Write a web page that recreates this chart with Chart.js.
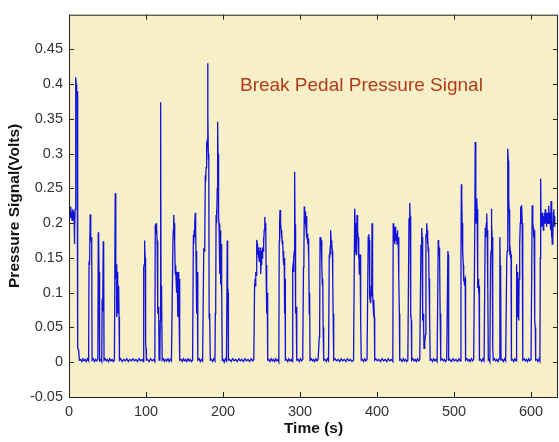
<!DOCTYPE html>
<html>
<head>
<meta charset="utf-8">
<script src="https://cdn.jsdelivr.net/npm/chart.js@4.4.1/dist/chart.umd.min.js"></script>
<style>
  html, body { margin: 0; padding: 0; background: #fff; }
  canvas { display: block; }
</style>
</head>
<body>
<canvas id="pedalChart" width="559" height="442"></canvas>
<script>
// brake pedal signal (time in s, pressure in volts)
const timeS = [
  0, 0.5, 1, 1.5, 2, 2.5, 3, 3.5, 4, 4.5, 5, 5.5, 6, 6.5, 7, 7.5, 8, 8.5, 9, 9.5, 10, 10.5, 11, 11.5, 12.5, 13.5,
  15, 16.5, 18, 19.5, 21, 22.5, 24, 25.5,
  26, 26.5, 27, 27.5, 28, 28.5, 29, 29.5, 30,
  31.5, 33, 34.5, 36, 37.5,
  38, 38.5, 39, 39.5, 40,
  41.5, 42.5,
  43, 43.5, 44, 44.5, 45, 45.5,
  47, 48.5, 50, 51.5, 53, 54.5, 56, 57.5, 59,
  60, 60.5, 61, 61.5, 62, 62.5, 63, 63.5, 64, 64.5, 65, 65.5,
  67, 69, 71, 73, 75, 77, 79, 81, 83, 85, 87, 89, 91, 93, 95, 96.5,
  97, 97.5, 98, 98.5, 99, 99.5, 100, 100.5,
  102, 104, 106, 108, 110, 111.5,
  112, 112.5, 113, 113.5, 114, 114.5, 115, 115.5, 116, 116.5, 117, 118, 118.5, 119, 119.5, 120, 120.5, 121,
  122.5, 124, 125.5, 127, 128.5, 130, 131.5, 133,
  135, 135.5, 136, 136.5, 137, 137.5, 138, 138.5, 139, 139.5, 140, 140.5, 141, 141.5, 142, 142.5, 143, 143.5, 144,
  145.5, 147, 148.5, 150, 151.5, 153, 154.5, 156, 157.5, 159, 160.5,
  161.5, 162, 162.5, 163, 163.5, 164, 164.5, 165, 165.5, 166, 166.5, 167, 167.5,
  169, 170.5, 172, 173.5,
  175, 175.5, 176, 176.5, 177, 177.5, 178, 178.5, 179, 179.5, 180, 180.5, 181, 181.5, 182, 182.5, 183, 183.5,
  185, 186.5, 188, 189.5,
  190, 190.5, 191, 191.5, 192, 192.5, 193, 193.5, 194, 194.5, 195, 195.5, 196, 196.5, 197, 197.5, 198, 198.5, 199,
  200, 201.5, 203, 204.5,
  205.5, 206, 206.5, 207,
  208.5, 210.5, 212.5, 214.5, 216.5, 218.5, 220.5, 222.5, 224.5, 226.5, 228.5, 230.5, 232.5, 234.5, 236.5, 238.5, 240,
  241, 241.5, 242, 242.5, 243, 243.5, 244, 244.5, 245, 245.5, 246, 246.5, 247, 247.5, 248, 248.5, 249, 249.5,
  250, 250.5, 251, 251.5, 252, 252.5, 253, 253.5, 254, 254.5, 255, 255.5, 256, 256.5, 257, 257.5, 258,
  259.5, 261, 262.5, 264, 265.5, 267, 268.5, 270, 271.5, 272.5,
  273, 273.5, 274, 274.5, 275, 275.5, 276, 276.5, 277, 277.5, 278, 278.5, 279, 279.5, 280, 280.5, 281,
  282.5, 284, 285.5, 287, 288.5, 290,
  290.5, 291, 291.5, 292, 292.5, 293, 293.5, 294, 294.5, 295, 295.5, 296,
  297.5, 299, 300.5, 302, 303.5,
  304.5, 305, 305.5, 306, 306.5, 307, 307.5, 308, 308.5, 309, 309.5, 310, 310.5, 311, 311.5, 312, 312.5, 313,
  314.5, 316, 317.5, 319, 320.5, 322, 323.5,
  325, 325.5, 326, 326.5, 327, 327.5, 328, 328.5, 329, 329.5, 330, 330.5, 331,
  332.5, 334, 335.5, 337,
  338, 338.5, 339, 339.5, 340, 340.5, 341, 341.5, 342, 342.5, 343, 343.5, 344,
  345.5, 347.5, 349.5, 351.5, 353.5, 355.5, 357.5, 359.5, 361.5, 363.5, 365.5, 367.5, 369.5,
  371, 371.5, 372, 372.5, 373, 373.5, 374, 374.5, 375, 375.5, 376, 376.5, 377, 377.5, 378, 378.5, 379, 379.5,
  381, 382.5, 384, 385.5, 387,
  388.5, 389, 389.5, 390, 390.5, 391, 391.5, 392, 392.5, 393, 393.5, 394, 394.5, 395, 395.5, 396, 396.5, 397,
  398.5, 400.5, 402.5, 404.5, 406.5, 408.5, 410.5, 412.5, 414.5, 416.5, 418.5, 420.5,
  421, 421.5, 422, 422.5, 423, 423.5, 424, 424.5, 425, 425.5, 426, 426.5, 427, 427.5, 428, 428.5, 429, 429.5,
  431, 432.5, 434, 435.5, 437, 438.5, 440,
  441.5, 442, 442.5, 443, 443.5, 444, 444.5, 445,
  446.5, 448, 449.5, 451, 452.5, 454, 455.5,
  457, 457.5, 458, 458.5, 459, 459.5, 460, 460.5, 461, 462, 463, 463.5, 464, 464.5, 465, 465.5, 466, 466.5, 467, 467.5, 468, 468.5, 469,
  470.5, 472, 473.5, 475, 476.5, 478,
  479.5, 480, 480.5, 481, 481.5, 482, 482.5, 483,
  484.5, 486, 487.5, 489, 490.5,
  492, 492.5, 493,
  494.5, 496.5, 498.5, 500.5, 502.5, 504.5, 506.5, 508,
  509, 509.5, 510, 510.5, 511, 511.5, 512, 512.5, 513, 513.5, 514, 514.5, 515,
  516.5, 518, 519.5, 521, 522.5, 524, 525.5,
  527, 527.5, 528, 528.5, 529, 529.5, 530, 530.5, 531, 531.5, 532, 532.5, 533,
  534.5, 536, 537.5, 539,
  540.5, 541, 541.5, 542, 542.5, 543, 543.5, 544, 544.5,
  545.5, 546.5,
  547.5, 548, 548.5, 549, 549.5, 550, 550.5, 551,
  552.5, 554, 555.5, 557, 558.5,
  559.5, 560, 560.5, 561,
  562.5, 564, 565.5, 567,
  568.5, 569, 569.5, 570, 570.5, 571, 571.5, 572, 572.5, 573, 573.5, 574, 574.5,
  576, 577.5, 579, 580.5,
  581, 581.5, 582, 582.5, 583, 583.5, 584, 584.5, 585, 585.5, 586, 586.5, 587, 587.5, 588, 588.5, 589, 589.5,
  591, 592.5, 594, 595.5, 597, 598.5, 600,
  601.5, 602, 602.5, 603, 603.5, 604, 604.5, 605, 605.5, 606,
  607.5, 609, 610.5, 611.5,
  612, 612.5, 613, 613.5, 614, 614.5, 615, 615.5, 616, 616.5, 617, 617.5, 618, 618.5, 619, 619.5, 620, 620.5,
  621, 621.5, 622, 622.5, 623, 623.5, 624, 624.5, 625, 625.5, 626, 626.5, 627, 627.5, 628, 628.5, 629, 629.5, 630, 630.5, 631
];

const pressureV = [
  .212, .222, .205, .218, .208, .224, .21, .216, .204, .22, .21, .218, .205, .215, .17, .19, .22, .226, .41, .4, .385, .39, .37, .02, .018, .003,
  .004, .001, .005, .002, .004, .001, .005, .002,
  .145, .15, .14, .213, .2, .174, .18, .17, .003,
  .005, .001, .004, .002, .005,
  .187, .175, .127, .13, .002,
  .004, .001,
  .084, .09, .08, .174, .165, .003,
  .005, .002, .004, .001, .005, .002, .004, .001, .003,
  .243, .14, .12, .141, .065, .13, .07, .11, .08, .11, .065, .003,
  .005, .001, .004, .002, .005, .001, .004, .002, .005, .002, .004, .001, .005, .002, .004, .001,
  .136, .14, .175, .167, .15, .026, .02, .003,
  .004, .001, .005, .002, .004, .001,
  .198, .19, .2, .185, .195, .17, .175, .07, .08, .065, .003, .004, .06, .374, .1, .11, .095, .003,
  .005, .001, .004, .002, .005, .001, .004, .002,
  .174, .19, .212, .2, .193, .17, .127, .14, .12, .13, .1, .13, .12, .065, .13, .11, .065, .12, .003,
  .004, .001, .005, .002, .004, .001, .005, .002, .004, .001, .003,
  .183, .17, .19, .18, .2, .215, .19, .145, .16, .07, .13, .07, .003,
  .005, .001, .004, .002,
  .164, .16, .17, .165, .269, .26, .28, .317, .3, .32, .43, .36, .293, .3, .065, .07, .06, .003,
  .004, .001, .005, .002,
  .07, .08, .212, .22, .2, .25, .346, .3, .222, .21, .19, .2, .127, .19, .112, .17, .1, .112, .003,
  .004, 0, .005, .002,
  .175, .098, .1, .003,
  .004, .001, .005, .002, .004, .001, .005, .002, .004, .001, .005, .002, .004, .001, .005, .002, .004,
  .112, .12, .11, .13, .125, .16, .176, .17, .155, .165, .15, .16, .145, .16, .15, .165, .127, .15,
  .14, .16, .15, .165, .16, .18, .17, .19, .2, .209, .19, .2, .127, .14, .07, .1, .003,
  .004, .001, .005, .002, .004, .001, .005, .002, .004, .001,
  .174, .2, .219, .21, .2, .19, .178, .185, .17, .175, .155, .16, .14, .15, .07, .12, .003,
  .004, .001, .005, .002, .004, .001,
  .136, .14, .13, .15, .16, .274, .198, .19, .07, .08, .065, .003,
  .004, .001, .005, .002, .004,
  .136, .14, .224, .21, .2, .217, .2, .19, .21, .178, .185, .17, .178, .15, .16, .07, .1, .003,
  .005, .002, .004, .001, .005, .002, .004,
  .036, .05, .18, .17, .18, .175, .165, .14, .112, .12, .05, .04, .003,
  .004, .001, .005, .002,
  .155, .15, .16, .155, .19, .17, .175, .169, .16, .12, .07, .06, .003,
  .005, .002, .004, .001, .005, .002, .004, .001, .005, .002, .004, .001, .003,
  .221, .2, .19, .16, .155, .17, .212, .2, .19, .18, .15, .16, .127, .14, .155, .13, .06, .003,
  .004, .001, .005, .002, .004,
  .174, .17, .184, .175, .094, .09, .1, .085, .11, .095, .2, .19, .1, .08, .065, .09, .065, .003,
  .005, .002, .004, .001, .005, .002, .004, .001, .005, .002, .004, .001,
  .2, .19, .174, .18, .17, .195, .18, .19, .175, .185, .17, .19, .175, .18, .15, .12, .07, .003,
  .004, .001, .005, .002, .004, .001, .003,
  .207, .2, .229, .21, .065, .07, .06, .003,
  .005, .002, .004, .001, .005, .002, .004,
  .169, .16, .193, .18, .17, .06, .07, .05, .02, .03, .04, .184, .18, .2, .19, .17, .18, .16, .165, .12, .065, .07, .003,
  .004, .001, .005, .002, .004, .001,
  .176, .17, .16, .165, .15, .065, .07, .003,
  .005, .002, .004, .001, .004,
  .16, .155, .003,
  .004, .001, .005, .002, .004, .001, .005, .002,
  .15, .256, .24, .2, .155, .16, .14, .117, .12, .11, .117, .12, .003,
  .005, .002, .004, .001, .005, .002, .004,
  .2, .317, .3, .212, .2, .236, .22, .15, .107, .12, .1, .11, .003,
  .004, .001, .005, .002,
  .193, .18, .19, .2, .214, .19, .107, .12, .003,
  .004, .001,
  .15, .16, .221, .2, .18, .04, .02, .003,
  .005, .002, .004, .001, .005,
  .18, .136, .14, .003,
  .004, .001, .005, .002,
  .15, .16, .269, .307, .29, .236, .22, .2, .155, .16, .15, .155, .003,
  .004, .001, .005, .002,
  .141, .12, .13, .11, .065, .07, .06, .12, .15, .17, .2, .224, .2, .21, .226, .2, .19, .003,
  .005, .002, .004, .001, .005, .002, .004,
  .226, .21, .2, .193, .18, .185, .19, .06, .05, .003,
  .004, .001, .005, .002,
  .15, .264, .2, .21, .195, .215, .2, .205, .19, .21, .2, .215, .205, .22, .2, .215, .195, .21,
  .2, .205, .215, .2, .225, .21, .2, .215, .2, .19, .232, .18, .2, .17, .19, .18, .215, .22, .2, .21, .195
];

const xTickValues = [0, 100, 200, 300, 400, 500, 600];
const yTickValues = [-0.05, 0, 0.05, 0.1, 0.15, 0.2, 0.25, 0.3, 0.35, 0.4, 0.45];

const chartTitle = "Break Pedal Pressure Signal";
const xAxisTitle = "Time (s)";
const yAxisTitle = "Pressure Signal(Volts)";

const fontFamily = '"Liberation Sans", Arial, Helvetica, sans-serif';
Chart.defaults.font.family = fontFamily;

const points = timeS.map((t, i) => ({ x: t, y: pressureV[i] }));

// beige plot box, black frame, inward ticks on all sides, and the title text
const matlabFrame = {
  id: "matlabFrame",
  beforeDraw(chart) {
    const { ctx, chartArea: a } = chart;
    ctx.save();
    ctx.fillStyle = "#f7efc7";
    ctx.fillRect(a.left, a.top, a.right - a.left, a.bottom - a.top);
    ctx.restore();
  },
  afterDraw(chart) {
    const { ctx, chartArea: a, scales } = chart;
    const tick = 5;
    ctx.save();
    ctx.strokeStyle = "#222";
    ctx.lineWidth = 1;
    ctx.strokeRect(a.left + 0.5, a.top + 0.5, a.right - a.left - 1, a.bottom - a.top);
    ctx.beginPath();
    xTickValues.forEach((v) => {
      const px = Math.round(scales.x.getPixelForValue(v)) + 0.5;
      ctx.moveTo(px, a.bottom); ctx.lineTo(px, a.bottom - tick);
      ctx.moveTo(px, a.top); ctx.lineTo(px, a.top + tick);
    });
    yTickValues.forEach((v) => {
      const py = Math.round(scales.y.getPixelForValue(v)) + 0.5;
      ctx.moveTo(a.left, py); ctx.lineTo(a.left + tick, py);
      ctx.moveTo(a.right, py); ctx.lineTo(a.right - tick, py);
    });
    ctx.stroke();

    ctx.fillStyle = "#b23c17";
    ctx.font = "19px " + fontFamily;
    ctx.textBaseline = "middle";
    ctx.textAlign = "left";
    ctx.fillText(chartTitle, scales.x.getPixelForValue(222), scales.y.getPixelForValue(0.398));
    ctx.restore();
  }
};

new Chart(document.getElementById("pedalChart"), {
  type: "line",
  data: {
    datasets: [{
      data: points,
      borderColor: "#1212d8",
      borderWidth: 1.3,
      pointRadius: 0,
      tension: 0,
      fill: false
    }]
  },
  options: {
    responsive: false,
    animation: false,
    layout: { padding: { top: 10, right: 1, left: 0, bottom: 0 } },
    plugins: {
      legend: { display: false },
      tooltip: { enabled: false }
    },
    scales: {
      x: {
        type: "linear",
        min: 0,
        max: 635,
        afterBuildTicks: (scale) => { scale.ticks = xTickValues.map((v) => ({ value: v })); },
        afterFit: (scale) => { scale.height = 45; },
        grid: { display: false, drawTicks: false },
        border: { display: false },
        ticks: {
          padding: 6,
          color: "#333",
          font: { size: 14.5 },
          maxRotation: 0
        },
        title: {
          display: true,
          text: xAxisTitle,
          color: "#111",
          font: { size: 15.5, weight: "bold" },
          padding: { top: 0, bottom: 4 }
        }
      },
      y: {
        type: "linear",
        min: -0.05,
        max: 0.5,
        afterBuildTicks: (scale) => { scale.ticks = yTickValues.map((v) => ({ value: v })); },
        afterFit: (scale) => { scale.width = 69; },
        grid: { display: false, drawTicks: false },
        border: { display: false },
        ticks: {
          padding: 6,
          color: "#333",
          font: { size: 14.5 },
          callback: (v) => String(parseFloat(Number(v).toFixed(2)))
        },
        title: {
          display: true,
          text: yAxisTitle,
          color: "#111",
          font: { size: 15.5, weight: "bold" },
          padding: { top: 5, bottom: 0 }
        }
      }
    }
  },
  plugins: [matlabFrame]
});
</script>
</body>
</html>
